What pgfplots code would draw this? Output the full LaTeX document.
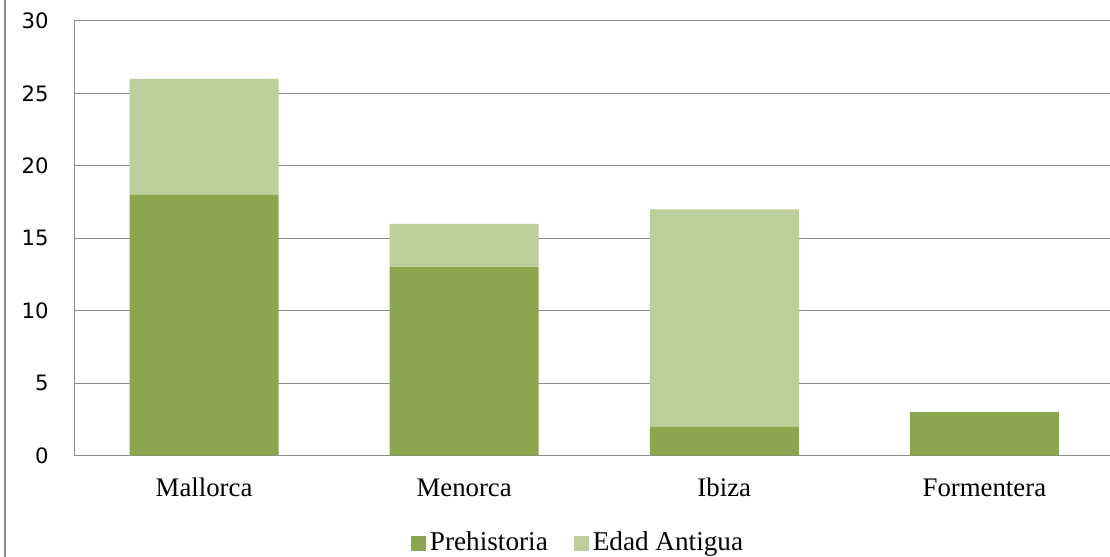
\documentclass[border=0pt]{standalone}
\usepackage{pgfplots}
\pgfplotsset{compat=1.18}
\usepackage{fontspec}
\setmainfont{Liberation Serif}
\newfontfamily\tickfont{DejaVu Sans}
\definecolor{prehist}{HTML}{8AA64E}
\definecolor{antigua}{HTML}{BBCF9A}
\definecolor{gridgray}{HTML}{8C8C8C}

\begin{document}
\begin{tikzpicture}
\useasboundingbox (-37pt,-50.75pt) rectangle (518pt,227.75pt);
% frame edge on the left
\draw[gridgray, line width=1.1pt] (-34.5pt,-50.75pt) -- (-34.5pt,227.75pt);
\begin{axis}[
  scale only axis,
  width=518pt, height=217.25pt,
  ybar stacked,
  bar width=74.5pt,
  xmin=-0.5, xmax=3.483,
  ymin=0, ymax=30,
  ytick={0,5,...,30},
  xtick=data,
  xticklabels={Mallorca,Menorca,Ibiza,Formentera},
  major tick length=0pt,
  axis x line*=bottom, axis y line*=left,
  axis line style={gridgray, -},
  ymajorgrids,
  major grid style={gridgray, line width=0.5pt},
  /pgf/number format/assume math mode=true,
  yticklabel style={font=\tickfont\fontsize{10.6pt}{12pt}\selectfont, anchor=east, inner sep=0pt, xshift=-12.5pt},
  xticklabel style={font=\fontsize{13.4pt}{15pt}\selectfont, anchor=base, inner sep=0pt, yshift=-20.5pt},
  legend columns=2,
  legend style={at={(0.4875,-0.2014)}, anchor=center, draw=none, fill=none,
                font=\fontsize{13.6pt}{15pt}\selectfont,
                /tikz/every even column/.append style={column sep=11pt},
                inner sep=0pt},
  legend image code/.code={\fill[#1] (0pt,-3.8pt) rectangle (7.5pt,3.7pt);},
  legend cell align={left},
]
\addplot[fill=prehist, draw=none] coordinates {(0,18) (1,13) (2,2) (3,3)};
\addlegendentry{Prehistoria}
\addplot[fill=antigua, draw=none] coordinates {(0,8) (1,3) (2,15) (3,0)};
\addlegendentry{Edad Antigua}
\end{axis}
\end{tikzpicture}
\end{document}
